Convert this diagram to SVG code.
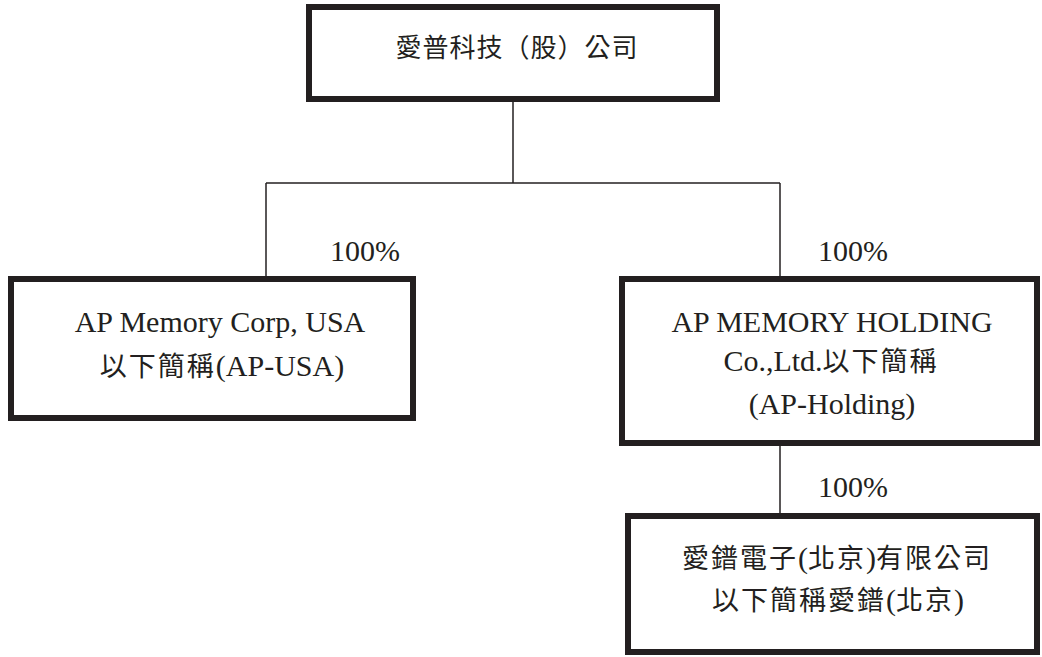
<svg xmlns="http://www.w3.org/2000/svg" width="1042" height="657" viewBox="0 0 1042 657">
<style>
.box{fill:#fff;stroke:#231f20;stroke-width:6}
.ln{stroke:#231f20;stroke-width:1.5;fill:none}
.t{font-family:"Liberation Serif","Noto Sans CJK TC",serif;font-size:30px;fill:#231f20;text-anchor:middle}
.cjk{font-family:"Noto Sans CJK TC","Liberation Serif",serif;font-size:26px;fill:#231f20;text-anchor:middle;letter-spacing:1px}
.c{font-family:"Noto Sans CJK TC",sans-serif;font-size:27px;letter-spacing:2px}
</style>
<rect width="1042" height="657" fill="#fff"/>
<g id="connectors">
<line class="ln" x1="513" y1="102" x2="513" y2="183"/>
<line class="ln" x1="266" y1="183" x2="780" y2="183"/>
<line class="ln" x1="266" y1="183" x2="266" y2="276"/>
<line class="ln" x1="780" y1="183" x2="780" y2="276"/>
<line class="ln" x1="780" y1="446" x2="780" y2="513"/>
<text class="t" x="365" y="261">100%</text>
<text class="t" x="853" y="261">100%</text>
<text class="t" x="853" y="497">100%</text>
</g>
<g id="parent">
<rect class="box" x="309" y="7" width="408" height="92"/>
<text class="cjk" x="517" y="57">愛普科技（股）公司</text>
</g>
<g id="ap-usa">
<rect class="box" x="11" y="279" width="402" height="139"/>
<text class="t" x="220" y="332">AP Memory Corp, USA</text>
<text class="t" x="222" y="376"><tspan class="c">以下簡稱</tspan>(AP-USA)</text>
</g>
<g id="ap-holding">
<rect class="box" x="622" y="279" width="415" height="164"/>
<text class="t" x="832" y="332">AP MEMORY HOLDING</text>
<text class="t" x="831" y="371">Co.,Ltd.<tspan class="c">以下簡稱</tspan></text>
<text class="t" x="832" y="414">(AP-Holding)</text>
</g>
<g id="ap-beijing">
<rect class="box" x="628" y="516" width="409" height="136"/>
<text class="t" x="837" y="568"><tspan class="c">愛鐠電子</tspan>(<tspan class="c">北京</tspan>)<tspan class="c">有限公司</tspan></text>
<text class="t" x="838" y="610"><tspan class="c">以下簡稱愛鐠</tspan>(<tspan class="c">北京</tspan>)</text>
</g>
</svg>
